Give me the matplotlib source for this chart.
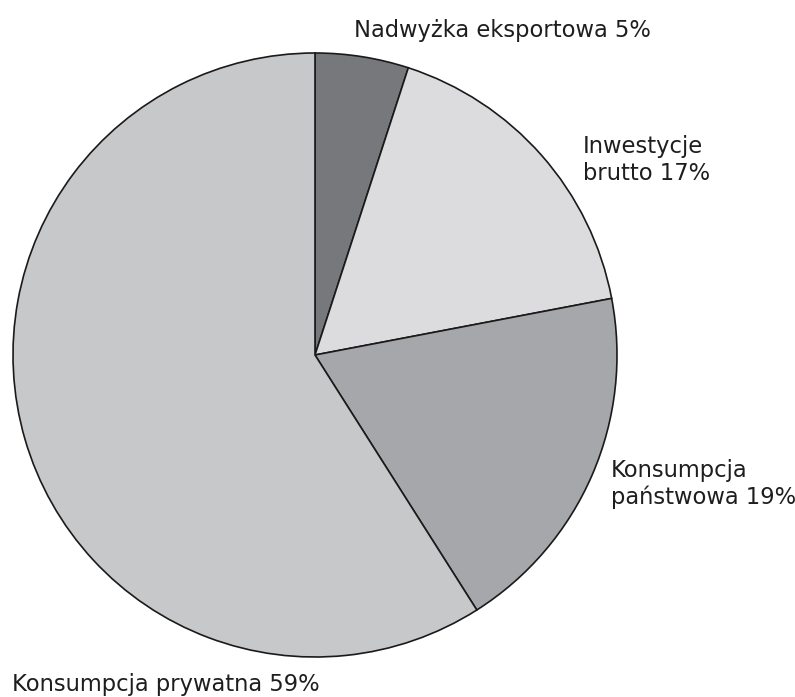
import matplotlib.pyplot as plt

# Struktura PKB - udziały w procentach
labels = ["Nadwyżka eksportowa 5%", "Inwestycje\nbrutto 17%",
          "Konsumpcja\npaństwowa 19%", "Konsumpcja prywatna 59%"]
values = [5, 17, 19, 59]
colors = ["#77787b", "#dcdcde", "#a6a7aa", "#c7c8ca"]

W, H = 795, 697

fig = plt.figure(figsize=(W / 100, H / 100), dpi=100)
ax = fig.add_axes([0, 0, 1, 1])

# pie drawn in pixel coordinates (y axis inverted -> counterclock=True looks clockwise)
ax.pie(values, colors=colors, startangle=-90, counterclock=True,
       center=(315, 355), radius=302, frame=True,
       wedgeprops=dict(edgecolor="#1a1a1a", linewidth=1.2))
ax.set_xlim(0, W)
ax.set_ylim(H, 0)
ax.set_aspect("equal")
ax.axis("off")

txt = dict(fontsize=16.3, color="#1e1e1e", linespacing=1.2, va="center", ha="left")
ax.text(354, 30, labels[0], **txt)
ax.text(583, 160, labels[1], **txt)
ax.text(611, 484, labels[2], **txt)
ax.text(12, 684, labels[3], **txt)

fig.savefig("out.png", dpi=100)
